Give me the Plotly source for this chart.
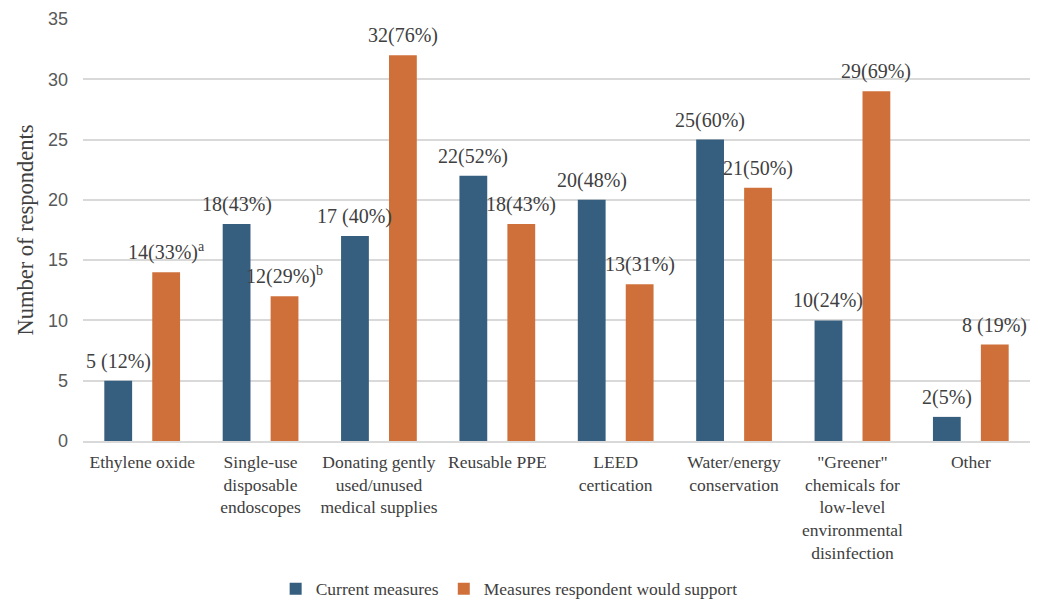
import plotly.graph_objects as go

# Categories of sustainability measures (multi-line tick labels)
categories = [
    "Ethylene oxide",
    "Single-use<br>disposable<br>endoscopes",
    "Donating gently<br>used/unused<br>medical supplies",
    "Reusable PPE",
    "LEED<br>certication",
    "Water/energy<br>conservation",
    "\"Greener\"<br>chemicals for<br>low-level<br>environmental<br>disinfection",
    "Other",
]

current_counts = [5, 18, 17, 22, 20, 25, 10, 2]
current_labels = ["5 (12%)", "18(43%)", "17 (40%)", "22(52%)",
                  "20(48%)", "25(60%)", "10(24%)", "2(5%)"]

support_counts = [14, 12, 32, 18, 13, 21, 29, 8]
support_labels = ["14(33%)<sup>a</sup>", "12(29%)<sup>b</sup>", "32(76%)", "18(43%)",
                  "13(31%)", "21(50%)", "29(69%)", "8 (19%)"]

series_names = ["Current measures", "Measures respondent would support"]
tick_values = [0, 5, 10, 15, 20, 25, 30, 35]

BLUE = "#365E7E"
ORANGE = "#CF703A"
TEXT = "#404040"
GRID = "#D9D9D9"
SERIF = "Liberation Serif, Times New Roman, serif"

fig = go.Figure()
fig.add_trace(go.Bar(x=categories, y=current_counts, name=series_names[0],
                     marker=dict(color=BLUE, line=dict(width=0))))
fig.add_trace(go.Bar(x=categories, y=support_counts, name=series_names[1],
                     marker=dict(color=ORANGE, line=dict(width=0))))

# Value labels above each bar
annotations = []
for cat, val, lab in zip(categories, current_counts, current_labels):
    annotations.append(dict(x=cat, y=val, text=lab, xref="x", yref="y",
                            showarrow=False, xshift=-24, yshift=6, yanchor="bottom",
                            font=dict(family=SERIF, size=20, color=TEXT)))
for cat, val, lab in zip(categories, support_counts, support_labels):
    annotations.append(dict(x=cat, y=val, text=lab, xref="x", yref="y",
                            showarrow=False, xshift=24, yshift=6, yanchor="bottom",
                            font=dict(family=SERIF, size=20, color=TEXT)))

fig.update_layout(
    width=1052, height=602,
    margin=dict(l=83, r=22, t=19, b=161),
    paper_bgcolor="white", plot_bgcolor="white",
    barmode="group", bargap=0.19, bargroupgap=0.42,
    annotations=annotations,
    legend=dict(orientation="h", x=0.45, xanchor="center",
                yref="container", y=0.022, yanchor="middle",
                font=dict(family=SERIF, size=17.5, color=TEXT), itemwidth=30,
                bgcolor="rgba(0,0,0,0)"),
    xaxis=dict(showgrid=False, showline=True, linecolor=GRID, linewidth=1.5,
               ticks="", tickfont=dict(family=SERIF, size=17.5, color=TEXT),
               tickangle=0, automargin=False, ticklabelstandoff=4),
    yaxis=dict(range=[0, 35], tickvals=tick_values, showgrid=True, gridcolor=GRID,
               gridwidth=1.5, zeroline=False, ticks="", ticklabelstandoff=14,
               automargin=False,
               tickfont=dict(family="Liberation Sans, Arial, sans-serif", size=18,
                             color="#595959"),
               title=dict(text="Number of respondents", standoff=8,
                          font=dict(family=SERIF, size=22.5, color=TEXT))),
)

fig.write_html("out.html")
